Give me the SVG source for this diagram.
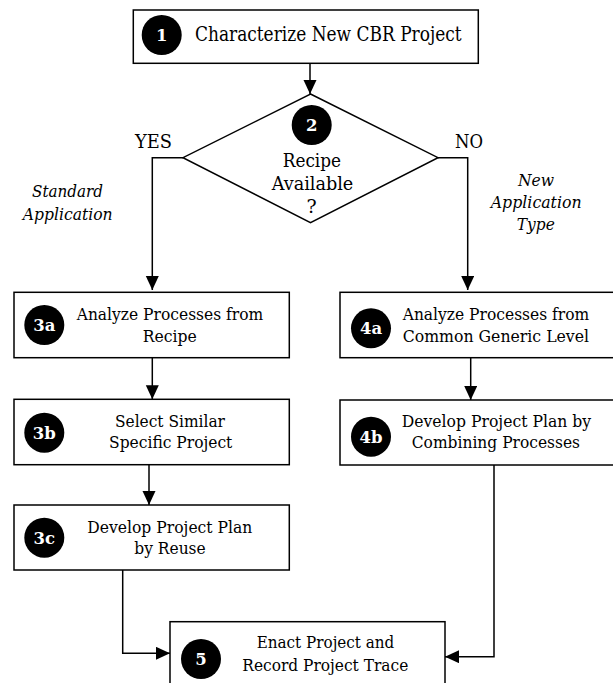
<svg xmlns="http://www.w3.org/2000/svg" width="613" height="683" viewBox="0 0 613 683">
  <style>
    text { font-family: 'DejaVu Serif', 'Liberation Serif', serif; }
    .box { fill: #fff; stroke: #000; stroke-width: 1.5; }
    .badge { fill: #000; }
    .num { font-weight: bold; font-size: 16.5px; fill: #fff; text-anchor: middle; }
    .lbl { font-size: 17.5px; fill: #000; text-anchor: middle; }
    .big { font-size: 19px; }
    .note { font-style: italic; font-size: 17.5px; fill: #000; text-anchor: middle; }
    .edge { fill: none; stroke: #000; stroke-width: 1.5; }
  </style>
  <defs>
    <marker id="arrow" markerUnits="userSpaceOnUse" markerWidth="15" markerHeight="14" refX="14" refY="6.5" orient="auto">
      <path d="M0,0 L14,6.5 L0,13 z" fill="#000"/>
    </marker>
  </defs>
  <rect width="613" height="683" fill="#fff"/>

  <!-- connectors and their labels -->
  <g id="connectors">
    <path class="edge" d="M310,63.3 V94" marker-end="url(#arrow)"/>
    <path class="edge" d="M183,157.7 H152.3 V290" marker-end="url(#arrow)"/>
    <path class="edge" d="M438,157.7 H467.7 V290" marker-end="url(#arrow)"/>
    <path class="edge" d="M152.3,357.7 V399.3" marker-end="url(#arrow)"/>
    <path class="edge" d="M149,465 V505" marker-end="url(#arrow)"/>
    <path class="edge" d="M470.7,357.7 V400" marker-end="url(#arrow)"/>
    <path class="edge" d="M122.7,570 V653.3 H170" marker-end="url(#arrow)"/>
    <path class="edge" d="M494,465 V656.7 H445" marker-end="url(#arrow)"/>
    <text class="lbl big" x="153.5" y="148" textLength="37" lengthAdjust="spacingAndGlyphs">YES</text>
    <text class="lbl big" x="469" y="147.5" textLength="28" lengthAdjust="spacingAndGlyphs">NO</text>
    <text class="note" x="67.5" y="197" textLength="71" lengthAdjust="spacingAndGlyphs">Standard</text>
    <text class="note" x="67.7" y="220" textLength="90" lengthAdjust="spacingAndGlyphs">Application</text>
    <text class="note" x="536" y="186" textLength="36" lengthAdjust="spacingAndGlyphs">New</text>
    <text class="note" x="536.2" y="208" textLength="91" lengthAdjust="spacingAndGlyphs">Application</text>
    <text class="note" x="535.8" y="230" textLength="38" lengthAdjust="spacingAndGlyphs">Type</text>
  </g>

  <g id="step1">
    <rect class="box" x="133.3" y="10" width="345" height="53.3"/>
    <circle class="badge" cx="161.7" cy="35" r="20"/>
    <text class="num" x="161.7" y="41">1</text>
    <text class="lbl" style="font-size:19.5px" x="328.3" y="41" textLength="266.7" lengthAdjust="spacingAndGlyphs">Characterize New CBR Project</text>
  </g>

  <g id="step2">
    <polygon class="box" points="310.5,94 438,157.7 310.5,222.7 183,157.7"/>
    <circle class="badge" cx="311.7" cy="125" r="20"/>
    <text class="num" x="311.7" y="131">2</text>
    <text class="lbl big" x="311.9" y="166.7" textLength="58.3" lengthAdjust="spacingAndGlyphs">Recipe</text>
    <text class="lbl big" x="312.5" y="190" textLength="81.6" lengthAdjust="spacingAndGlyphs">Available</text>
    <text class="lbl big" x="311.7" y="213.3">?</text>
  </g>

  <g id="step3a">
    <rect class="box" x="14" y="292.3" width="275.3" height="65.4"/>
    <circle class="badge" cx="44.3" cy="325" r="20"/>
    <text class="num" x="44.3" y="331">3a</text>
    <text class="lbl" x="170" y="320" textLength="186.6" lengthAdjust="spacingAndGlyphs">Analyze Processes from</text>
    <text class="lbl" x="169.7" y="341.7" textLength="54" lengthAdjust="spacingAndGlyphs">Recipe</text>
  </g>

  <g id="step3b">
    <rect class="box" x="14" y="399.3" width="275.3" height="65.4"/>
    <circle class="badge" cx="44.3" cy="432.7" r="20"/>
    <text class="num" x="44.3" y="438.7">3b</text>
    <text class="lbl" x="170" y="426.7" textLength="110" lengthAdjust="spacingAndGlyphs">Select Similar</text>
    <text class="lbl" x="170.7" y="448.3" textLength="123.3" lengthAdjust="spacingAndGlyphs">Specific Project</text>
  </g>

  <g id="step3c">
    <rect class="box" x="14" y="505" width="275.3" height="65"/>
    <circle class="badge" cx="44.3" cy="537.7" r="20"/>
    <text class="num" x="44.3" y="543.7">3c</text>
    <text class="lbl" x="169.8" y="532.7" textLength="165" lengthAdjust="spacingAndGlyphs">Develop Project Plan</text>
    <text class="lbl" x="170" y="554.3" textLength="71.4" lengthAdjust="spacingAndGlyphs">by Reuse</text>
  </g>

  <g id="step4a">
    <rect class="box" x="340" y="292.3" width="276" height="65.4"/>
    <circle class="badge" cx="371" cy="328.3" r="20"/>
    <text class="num" x="371" y="334.3">4a</text>
    <text class="lbl" x="496" y="320" textLength="186.6" lengthAdjust="spacingAndGlyphs">Analyze Processes from</text>
    <text class="lbl" x="495.9" y="341.7" textLength="186.3" lengthAdjust="spacingAndGlyphs">Common Generic Level</text>
  </g>

  <g id="step4b">
    <rect class="box" x="340" y="400" width="276" height="65"/>
    <circle class="badge" cx="371" cy="436.7" r="20"/>
    <text class="num" x="371" y="442.7">4b</text>
    <text class="lbl" x="496.4" y="426.7" textLength="189.3" lengthAdjust="spacingAndGlyphs">Develop Project Plan by</text>
    <text class="lbl" x="495.9" y="448.3" textLength="168.3" lengthAdjust="spacingAndGlyphs">Combining Processes</text>
  </g>

  <g id="step5">
    <rect class="box" x="170" y="621.7" width="275" height="70"/>
    <circle class="badge" cx="201" cy="659" r="20"/>
    <text class="num" x="201" y="665">5</text>
    <text class="lbl" x="325.5" y="648.3" textLength="137.6" lengthAdjust="spacingAndGlyphs">Enact Project and</text>
    <text class="lbl" x="325.3" y="670.7" textLength="166" lengthAdjust="spacingAndGlyphs">Record Project Trace</text>
  </g>
</svg>
